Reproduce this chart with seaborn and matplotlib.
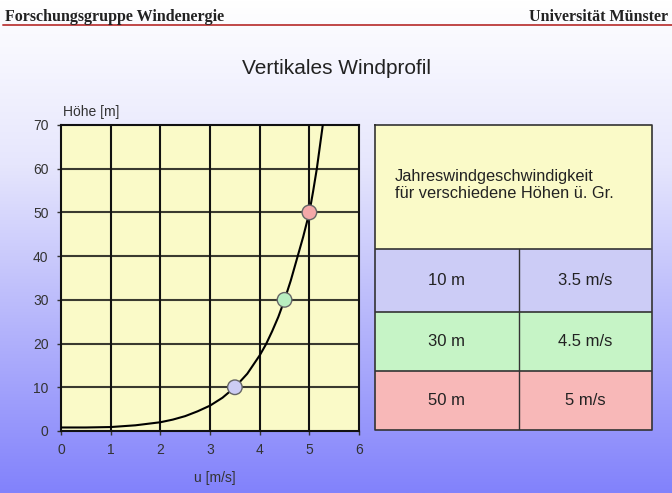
import matplotlib
matplotlib.use("Agg")
import matplotlib.pyplot as plt
import numpy as np
import pandas as pd
import seaborn as sns
from matplotlib.colors import LinearSegmentedColormap
from matplotlib.patches import Rectangle

# Data
u_curve = [0, 0.5, 1, 1.5, 2, 2.25, 2.5, 2.75, 3, 3.25, 3.5, 3.75, 4, 4.125, 4.25, 4.375,
           4.5, 4.625, 4.75, 4.875, 5, 5.075, 5.15, 5.21, 5.27]
h_curve = [0.8, 0.8, 0.9, 1.3, 2.0, 2.6, 3.4, 4.5, 5.8, 7.6, 10, 13.1, 17.3, 19.8, 22.8, 26.1,
           30, 34.4, 39.4, 44.4, 50, 54.8, 60, 65, 70]

heights = [10, 30, 50]
speeds = [3.5, 4.5, 5]
height_labels = ["10 m", "30 m", "50 m"]
speed_labels = ["3.5 m/s", "4.5 m/s", "5 m/s"]
row_colors = ["#ccccf6", "#c6f4c6", "#f8b8b8"]
marker_colors = ["#ccccf4", "#b8eec0", "#f4a8a8"]

x_ticks = [0, 1, 2, 3, 4, 5, 6]
y_ticks = [0, 10, 20, 30, 40, 50, 60, 70]

sns.set_style("ticks")
plt.rcParams['font.family'] = ['Liberation Sans', 'DejaVu Sans']

fig = plt.figure(figsize=(6.72, 4.93), dpi=100)

# Background gradient (white at top, blue at bottom)
bg = fig.add_axes([0, 0, 1, 1], zorder=-10)
grad = np.linspace(0, 1, 256).reshape(-1, 1)
cmap = LinearSegmentedColormap.from_list("bg", ["#ffffff", "#e6e6fd", "#b4b4fb", "#8282fc"])
bg.imshow(grad, aspect="auto", cmap=cmap, extent=[0, 1, 0, 1], origin="upper")
bg.set_axis_off()

# Header
fig.text(0.008, 0.966, "Forschungsgruppe Windenergie", family="Liberation Serif",
         fontweight="bold", fontsize=11.5, color="#222222", va="center", ha="left")
fig.text(0.994, 0.966, "Universität Münster", family="Liberation Serif",
         fontweight="bold", fontsize=11.5, color="#222222", va="center", ha="right")
fig.add_artist(plt.Line2D([0.004, 1.0], [0.950, 0.950], color="#c04848", lw=1.4))

fig.text(0.5, 0.862, "Vertikales Windprofil", fontsize=15, color="#222222",
         ha="center", va="center")

# Wind profile chart
ax = fig.add_axes([0.0908, 0.1258, 0.4435, 0.6207])
ax.set_facecolor("#fafac8")
for yv in y_ticks[1:-1]:
    ax.axhline(yv, color="#3a3a30", lw=1.5, zorder=1)
for xv in x_ticks[1:-1]:
    ax.axvline(xv, color="#111111", lw=1.5, zorder=1)

curve = pd.DataFrame({"u": u_curve, "h": h_curve})
sns.lineplot(data=curve, x="u", y="h", ax=ax, color="black", lw=1.5, zorder=3)

pts = pd.DataFrame({"u": speeds, "h": heights, "lbl": height_labels})
sns.scatterplot(data=pts, x="u", y="h", hue="lbl", palette=marker_colors, s=110,
                edgecolor="#666666", linewidth=1, ax=ax, zorder=4, legend=False)

ax.set_xlim(0, 6)
ax.set_ylim(0, 70)
ax.set_xticks(x_ticks)
ax.set_yticks(y_ticks)
ax.tick_params(labelsize=10, labelcolor="#333333", length=3, width=1, color="#333333", pad=6)
for s in ax.spines.values():
    s.set_color("#111111")
    s.set_linewidth(1.5)
ax.set_xlabel("")
ax.set_ylabel("")
fig.text(0.094, 0.772, "Höhe [m]", fontsize=10, color="#333333", ha="left", va="center")
fig.text(0.320, 0.030, "u [m/s]", fontsize=10, color="#333333", ha="center", va="center")

# Table on the right
tx = fig.add_axes([0.558, 0.1278, 0.412, 0.6187])
tx.set_xlim(375, 652)
tx.set_ylim(430, 125)
tx.set_axis_off()
col_split = 519
row_edges = [249, 312, 371, 430]
tx.add_patch(Rectangle((375, 125), 277, 124, facecolor="#fafac8", edgecolor="none"))
for i in range(3):
    y0, y1 = row_edges[i], row_edges[i + 1]
    tx.add_patch(Rectangle((375, y0), 277, y1 - y0, facecolor=row_colors[i], edgecolor="none"))
    yc = (y0 + y1) / 2
    tx.text((375 + col_split) / 2, yc, height_labels[i], fontsize=12, color="#222222",
            ha="center", va="center")
    tx.text((col_split + 652) / 2, yc, speed_labels[i], fontsize=12, color="#222222",
            ha="center", va="center")
tx.text(395, 185, "Jahreswindgeschwindigkeit\nfür verschiedene Höhen ü. Gr.", fontsize=11.8,
        color="#222222", ha="left", va="center", linespacing=1.2)
lc = "#333333"
tx.plot([375, 652, 652, 375, 375], [125, 125, 430, 430, 125], color=lc, lw=1.2, clip_on=False)
for ye in row_edges[:-1]:
    tx.plot([375, 652], [ye, ye], color=lc, lw=1.2)
tx.plot([col_split, col_split], [249, 430], color=lc, lw=1.0)

fig.savefig("out.png", dpi=100)
